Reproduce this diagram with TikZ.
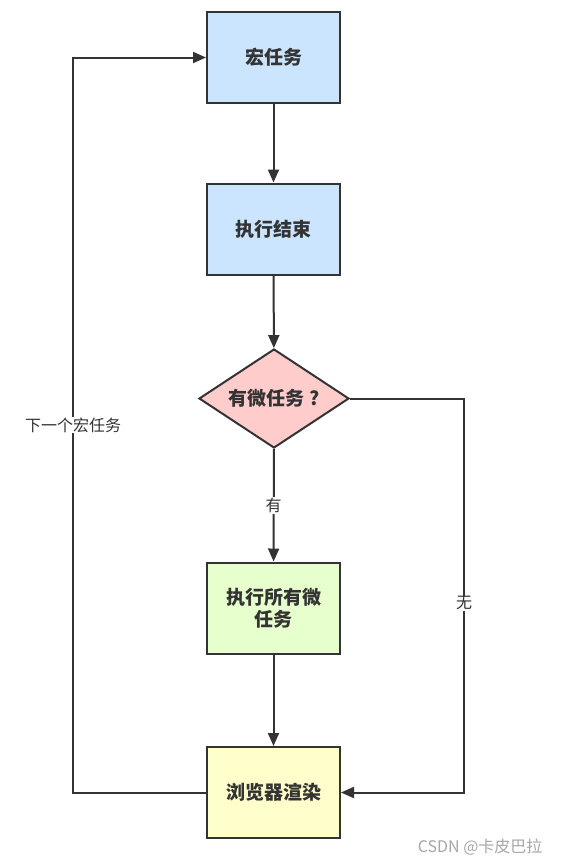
\documentclass[tikz,border=0pt]{standalone}
\usepackage{fontspec}
\setmainfont{Noto Sans CJK SC}
\usetikzlibrary{positioning, arrows.meta, shapes.geometric}

\definecolor{linegray}{HTML}{333333}
\definecolor{macroblue}{HTML}{CCE5FF}
\definecolor{askpink}{HTML}{FFCCCC}
\definecolor{microgreen}{HTML}{E6FFCC}
\definecolor{renderyellow}{HTML}{FFFFCC}

\tikzset{
    stepbox/.style={draw=linegray, line width=2pt, minimum width=133pt, minimum height=91pt,
        align=center, text=linegray, font=\fontsize{19}{22}\selectfont\bfseries},
    askbox/.style={diamond, draw=linegray, line width=2pt, fill=askpink, aspect=1.5,
        minimum width=150pt, minimum height=99pt, inner sep=0pt,
        text=linegray, font=\fontsize{19}{22}\selectfont\bfseries},
    flow/.style={draw=linegray, line width=2pt, -{Triangle[length=13pt, width=11pt]}},
    flowtag/.style={fill=white, text=linegray, inner sep=1pt, font=\fontsize{16}{18}\selectfont}
}

\begin{document}
\begin{tikzpicture}[x=1pt, y=-1pt]
    \useasboundingbox (0,0) rectangle (561,865);

    % main column
    \node[stepbox, fill=macroblue] (macro) at (273.5, 57.5) {宏任务};
    \node[stepbox, fill=macroblue] (done) at (273.5, 229) {执行结束};
    \node[askbox] (ask) at (274, 398.5) {有微任务 ?};
    \node[stepbox, fill=microgreen] (micro) at (273.5, 608) {执行所有微\\任务};
    \node[stepbox, fill=renderyellow] (render) at (273.5, 792.5) {浏览器渲染};

    % corners of the loops
    \coordinate (leftdown) at (73, 792.5);
    \coordinate (leftup) at (73, 57.5);
    \coordinate (rightup) at (464, 398.5);
    \coordinate (rightdown) at (464, 792.5);

    \draw[flow] (macro) -- (done);
    \draw[flow] (done) -- (ask);
    \draw[flow] (ask) -- node[flowtag] (yes) {有} (micro);
    \draw[flow] (micro) -- (render);

    % no microtask: go straight to rendering
    \draw[flow] (ask.east) -- (rightup) -- node[flowtag, pos=0.52] (no) {无} (rightdown) -- (render.east);

    % back to the next macrotask
    \draw[flow] (render.west) -- (leftdown) -- node[flowtag, pos=0.5] (next) {下一个宏任务} (leftup) -- (macro.west);

    \node[text=gray!70, font=\fontsize{16}{18}\selectfont, anchor=east] (mark) at (546, 847) {CSDN @卡皮巴拉};
\end{tikzpicture}
\end{document}
